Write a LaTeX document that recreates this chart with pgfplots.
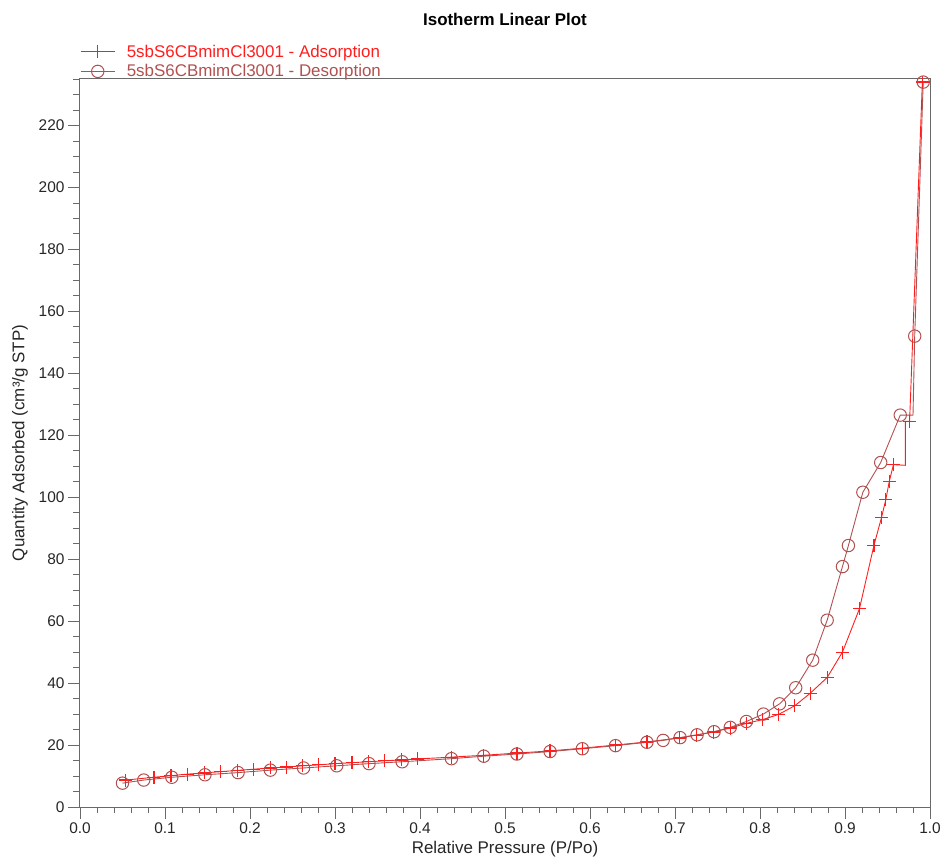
\documentclass[border=0pt]{standalone}
\usepackage{fontspec}
\setmainfont{Liberation Sans}
\usepackage{pgfplots}
\pgfplotsset{compat=1.18}
\usepackage{pgfplotstable}
\usetikzlibrary{calc}

\definecolor{adscol}{RGB}{255,30,30}
\definecolor{descol}{RGB}{178,80,80}
\definecolor{axcol}{RGB}{105,105,105}

% adsorption branch; rows 43-44 (0-based 42-43) are the corners of the step
\pgfplotstableread{
P Q
0.054 8.7
0.087 9.6
0.107 10.1
0.126 10.6
0.146 11.0
0.165 11.4
0.185 11.8
0.204 12.2
0.224 12.6
0.243 12.9
0.262 13.3
0.281 13.6
0.300 14.0
0.320 14.3
0.339 14.6
0.358 14.9
0.378 15.2
0.397 15.5
0.437 16.1
0.475 16.7
0.514 17.4
0.553 18.1
0.591 19.0
0.630 20.0
0.667 21.0
0.705 22.3
0.725 23.2
0.745 24.2
0.765 25.5
0.784 27.0
0.803 28.2
0.822 29.9
0.841 32.7
0.859 36.7
0.879 41.8
0.897 50.0
0.917 64.0
0.934 84.4
0.943 93.5
0.948 99.2
0.952 105.0
0.957 110.5
0.971 110.3
0.971 124.5
0.976 124.5
0.991 234.0
}\adsorption

% desorption branch; row 3 (0-based 2) is the corner of the step
\pgfplotstableread{
P Q
0.992 234.0
0.982 152.0
0.980 126.5
0.965 126.5
0.942 111.2
0.921 101.6
0.904 84.4
0.897 77.6
0.879 60.3
0.862 47.4
0.842 38.5
0.823 33.3
0.804 30.0
0.784 27.6
0.765 25.7
0.746 24.3
0.726 23.3
0.706 22.4
0.686 21.5
0.667 20.9
0.630 19.8
0.591 18.8
0.553 17.9
0.514 17.1
0.475 16.4
0.437 15.6
0.379 14.6
0.340 14.0
0.302 13.3
0.263 12.6
0.224 11.9
0.186 11.1
0.147 10.4
0.108 9.6
0.075 8.7
0.050 7.7
}\desorption

\begin{document}
\begin{tikzpicture}
\begin{axis}[
    name=ax,
    scale only axis,
    width=850bp, height=728bp,
    xmin=0, xmax=1, ymin=0, ymax=235,
    xtick={0,0.1,0.2,0.3,0.4,0.5,0.6,0.7,0.8,0.9,1.0},
    ytick={0,20,...,220},
    minor xtick={0,0.02,...,1.0},
    minor ytick={0,5,...,235},
    tick align=outside,
    major tick length=12bp, minor tick length=6.5bp,
    xtick pos=bottom, ytick pos=left,
    axis line style={axcol, line width=1bp},
    tick style={axcol, line width=0.8bp},
    /pgf/number format/assume math mode=true,
    xticklabel style={/pgf/number format/.cd, fixed, fixed zerofill, precision=1},
    ticklabel style={font=\fontsize{15.5}{18}\selectfont, text=black!85},
    label style={font=\fontsize{17}{20}\selectfont, text=black!85},
    xlabel={Relative Pressure (P/Po)},
    ylabel={Quantity Adsorbed (cm³/g STP)},
    xlabel style={at={(axis description cs:0.5,0)}, anchor=base, yshift=-46bp, inner sep=0pt},
    ylabel style={at={(axis description cs:0,0.5)}, anchor=south, yshift=52bp, inner sep=0pt},
    legend style={at={(0,1)}, anchor=south west, draw=none, fill=none,
        inner sep=0pt, row sep=5bp, font=\fontsize{17}{19}\selectfont,
        nodes={inner sep=0.5bp},
        /tikz/every odd column/.append style={column sep=11bp}},
    legend cell align=left,
    legend image code/.code={\draw[#1, mark repeat=2, mark phase=2]
        plot coordinates {(0bp,0bp) (17bp,0bp) (34bp,0bp)};},
]
% lines (through the step corners too)
\addplot[adscol, line width=0.9bp, forget plot] table[x=P, y=Q] {\adsorption};
\addplot[descol, line width=0.9bp, forget plot] table[x=P, y=Q] {\desorption};
% marks
\addplot[only marks, color=adscol, mark=+, mark size=6.5bp, forget plot,
    mark options={line width=1.2bp},
    skip coords between index={42}{44}] table[x=P, y=Q] {\adsorption};
\addplot[only marks, color=descol, mark=o, mark size=6.2bp, forget plot,
    mark options={line width=1bp},
    skip coords between index={2}{3}] table[x=P, y=Q] {\desorption};
% legend
\addlegendimage{color=adscol, line width=1.1bp, mark=+, mark size=6.5bp,
    mark options={line width=1.2bp}}
\addlegendentry[text=adscol]{5sbS6CBmimCl3001 - Adsorption}
\addlegendimage{color=descol, line width=1bp, mark=o, mark size=6.2bp,
    mark options={line width=1bp}}
\addlegendentry[text=descol]{5sbS6CBmimCl3001 - Desorption}
\end{axis}
\node[font=\bfseries\fontsize{17}{20}\selectfont, anchor=base] at ($(ax.north)+(0,53bp)$) {Isotherm Linear Plot};
\pgfresetboundingbox
\path[use as bounding box] ($(ax.south west)+(-80bp,-50bp)$) rectangle ($(ax.north east)+(14bp,79bp)$);
\end{tikzpicture}
\end{document}
